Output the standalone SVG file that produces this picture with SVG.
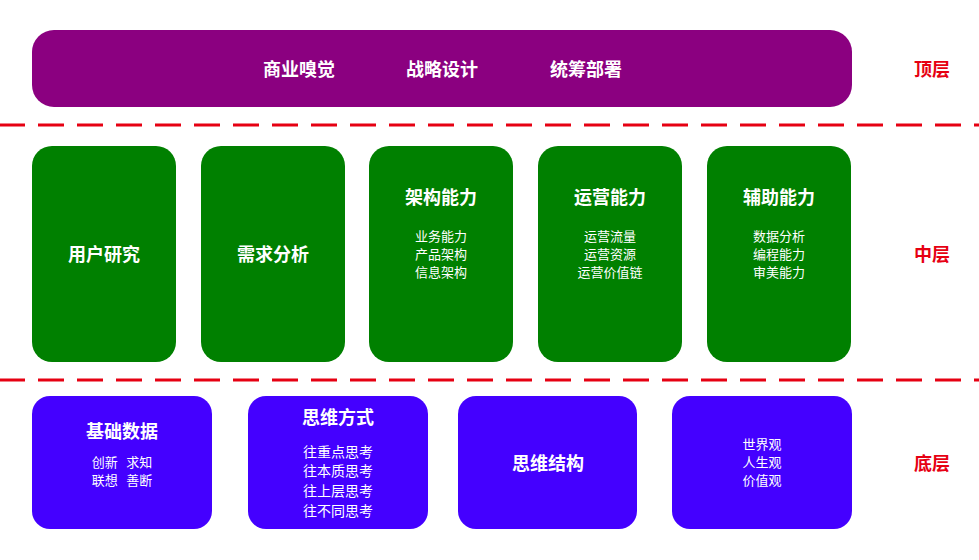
<svg xmlns="http://www.w3.org/2000/svg" width="979" height="560" viewBox="0 0 979 560">
<style>
text{font-family:"Noto Sans CJK SC","Liberation Sans",sans-serif;fill:#fff;text-anchor:middle;dominant-baseline:central}
.t{font-size:18px;font-weight:bold}
.s{font-size:13px}
.m{font-size:14px}
.lay{font-size:18px;font-weight:bold;fill:#e60012}
.dash{stroke:#e60012;stroke-width:3;stroke-dasharray:26 13;fill:none}
.g{fill:#008000}
.b{fill:#4400ff}
</style>
<rect width="979" height="560" fill="#fff"/>
<g id="connectors">
<line class="dash" x1="-1" y1="125" x2="979" y2="125"/>
<line class="dash" x1="-1" y1="380" x2="979" y2="380"/>
</g>
<g id="top">
<rect x="32" y="30" width="820" height="77" rx="22" fill="#8b0080"/>
<text class="t" x="299" y="68">商业嗅觉</text>
<text class="t" x="442" y="68">战略设计</text>
<text class="t" x="586" y="68">统筹部署</text>
</g>
<g id="label-top"><text class="lay" x="932" y="68">顶层</text></g>
<g id="label-mid"><text class="lay" x="932" y="253">中层</text></g>
<g id="label-bot"><text class="lay" x="932" y="462">底层</text></g>
<g id="n1"><rect class="g" x="32" y="146" width="144" height="216" rx="20"/><text class="t" x="104" y="253">用户研究</text></g>
<g id="n2"><rect class="g" x="201" y="146" width="144" height="216" rx="20"/><text class="t" x="273" y="253">需求分析</text></g>
<g id="n3"><rect class="g" x="369" y="146" width="144" height="216" rx="20"/><text class="t" x="441" y="196">架构能力</text>
<text class="s" x="441" y="235">业务能力</text><text class="s" x="441" y="253">产品架构</text><text class="s" x="441" y="271">信息架构</text></g>
<g id="n4"><rect class="g" x="538" y="146" width="144" height="216" rx="20"/><text class="t" x="610" y="196">运营能力</text>
<text class="s" x="610" y="235">运营流量</text><text class="s" x="610" y="253">运营资源</text><text class="s" x="610" y="271">运营价值链</text></g>
<g id="n5"><rect class="g" x="707" y="146" width="144" height="216" rx="20"/><text class="t" x="779" y="196">辅助能力</text>
<text class="s" x="779" y="235">数据分析</text><text class="s" x="779" y="253">编程能力</text><text class="s" x="779" y="271">审美能力</text></g>
<g id="b1"><rect class="b" x="32" y="396" width="180" height="133" rx="18"/><text class="t" x="122" y="430">基础数据</text>
<text class="s" x="122" y="461" xml:space="preserve">创新   求知</text><text class="s" x="122" y="479" xml:space="preserve">联想   善断</text></g>
<g id="b2"><rect class="b" x="248" y="396" width="180" height="133" rx="18"/><text class="t" x="338" y="416">思维方式</text>
<text class="m" x="338" y="451">往重点思考</text><text class="m" x="338" y="470">往本质思考</text><text class="m" x="338" y="490">往上层思考</text><text class="m" x="338" y="510">往不同思考</text></g>
<g id="b3"><rect class="b" x="458" y="396" width="179" height="133" rx="18"/><text class="t" x="548" y="462">思维结构</text></g>
<g id="b4"><rect class="b" x="672" y="396" width="180" height="133" rx="18"/><text class="s" x="762" y="443">世界观</text><text class="s" x="762" y="461">人生观</text><text class="s" x="762" y="479">价值观</text></g>
</svg>
